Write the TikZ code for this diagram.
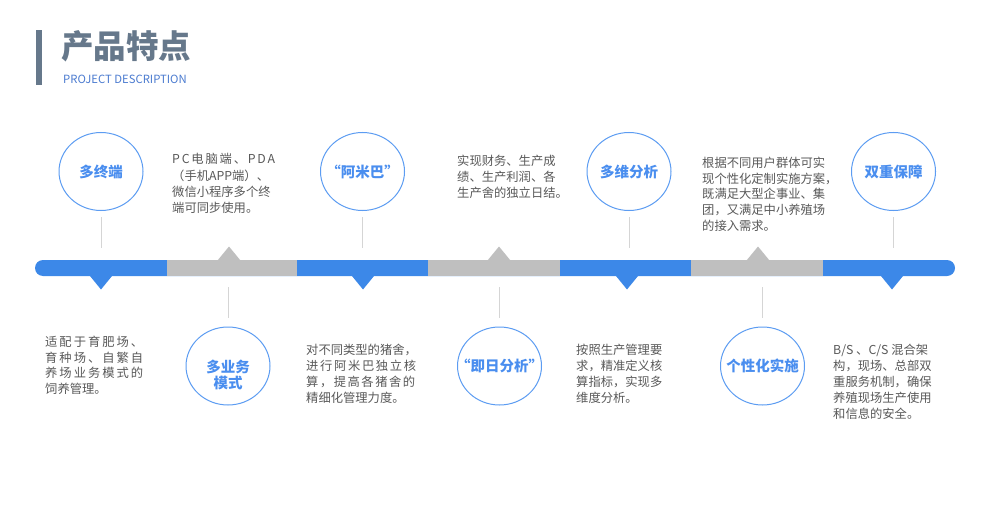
\documentclass[tikz,border=0pt]{standalone}
\usepackage{fontspec}
\setmainfont{Noto Sans CJK SC}
\usetikzlibrary{shapes.geometric}
\definecolor{titlegray}{HTML}{66788B}
\definecolor{subblue}{HTML}{4B7BD0}
\definecolor{barblue}{HTML}{3C88E8}
\definecolor{bargray}{HTML}{BFBFBF}
\definecolor{ringblue}{HTML}{5C9CF2}
\definecolor{labelblue}{HTML}{4A8EEF}
\definecolor{vlinegray}{HTML}{D5D5D5}
\definecolor{descgray}{HTML}{595959}
\def\sploop#1{\ifx#1\relax\else#1\hfil\expandafter\sploop\fi}
\newcommand\jline[2]{\hbox to #1{\sploop#2\relax\unskip}}
\newcommand\descline[4]{\node[desc] (#1) at (#2,#3) {#4};}
\tikzset{
  desc/.style={font=\fontsize{12.3}{16}\selectfont, text=descgray, inner sep=0pt, anchor=base west},
  ring/.style={ellipse, draw=ringblue, line width=1pt, minimum width=84pt, minimum height=78pt, inner sep=0pt},
  ringlabel/.style={font=\fontsize{14.5}{16}\selectfont\bfseries, text=labelblue, align=center, inner sep=0pt},
  vline/.style={draw=vlinegray, line width=0.9pt},
}
\begin{document}
\begin{tikzpicture}[x=1pt,y=-1pt]
\useasboundingbox[fill=white] (0,0) rectangle (990,508);
% title
\fill[titlegray] (36,30) rectangle (41.5,85);
\node[anchor=base west, inner sep=0pt, font=\fontsize{32.5}{32}\selectfont\bfseries, text=titlegray] (title) at (61,59) {产品特点};
\node[anchor=base west, inner sep=0pt, font=\fontsize{11.3}{12}\selectfont, text=subblue] (sub) at (63,83.3) {PROJECT DESCRIPTION};
% bar
\fill[barblue, rounded corners=8pt] (35,260) rectangle (955,276);
\fill[bargray] (167,260) rectangle (297,276);
\fill[bargray] (428,260) rectangle (560,276);
\fill[bargray] (691,260) rectangle (823,276);
\foreach \cx in {101,363,627,892}{
  \fill[barblue] (\cx-11.4,275.5) -- (\cx,289.5) -- (\cx+11.4,275.5) -- cycle;}
\foreach \cx in {229,499,758}{
  \fill[bargray] (\cx-11.5,260.5) -- (\cx,246.5) -- (\cx+11.5,260.5) -- cycle;}
% top circles
\node[ring] (c1) at (101,171.5) {};
\node[ringlabel] (l1) at (101,171.5) {多终端};
\node[ring] (c3) at (362.5,171.5) {};
\node[ringlabel] (l3) at (362.5,171.5) {“阿米巴”};
\node[ring] (c5) at (629,171.5) {};
\node[ringlabel] (l5) at (629,171.5) {多维分析};
\node[ring] (c7) at (893.5,171.5) {};
\node[ringlabel] (l7) at (893.5,171.5) {双重保障};
% bottom circles
\node[ring] (c2) at (228,366) {};
\node[ringlabel] (l2) at (228,375) {多业务\\模式};
\node[ring] (c4) at (499.5,366) {};
\node[ringlabel] (l4) at (499.5,366) {“即日分析”};
\node[ring] (c6) at (762.5,366) {};
\node[ringlabel] (l6) at (762.5,366) {个性化实施};
% connector lines
\foreach \c in {c1,c3,c5,c7}{ \draw[vline] ([yshift=-6pt]\c.south) -- ++(0,31); }
\foreach \c in {c2,c4,c6}{ \draw[vline] ([yshift=9pt]\c.north) -- ++(0,-31); }
% descriptions top
\descline{a1}{172}{164}{\jline{103pt}{PC电脑端、PDA}}
\descline{a2}{172}{180}{（手机APP端）、}
\descline{a3}{172}{196}{微信小程序多个终}
\descline{a4}{172}{212}{端可同步使用。}
\descline{b1}{457}{165}{实现财务、生产成}
\descline{b2}{457}{181}{绩、生产利润、各}
\descline{b3}{457}{197}{生产舍的独立日结。}
\descline{e1}{702}{167}{根据不同用户群体可实}
\descline{e2}{702}{183}{现个性化定制实施方案，}
\descline{e3}{702}{198.8}{既满足大型企事业、集}
\descline{e4}{702}{214.6}{团，又满足中小养殖场}
\descline{e5}{702}{230.4}{的接入需求。}
% descriptions bottom
\descline{f1}{45}{346.3}{\jline{98pt}{适配于育肥场、}}
\descline{f2}{45}{362.1}{\jline{98pt}{育种场、自繁自}}
\descline{f3}{45}{377.9}{\jline{98pt}{养场业务模式的}}
\descline{f4}{45}{393.7}{饲养管理。}
\descline{g1}{306}{354}{对不同类型的猪舍，}
\descline{g2}{306}{370}{\jline{110pt}{进行阿米巴独立核}}
\descline{g3}{306}{386}{\jline{109pt}{算，提高各猪舍的}}
\descline{g4}{306}{402}{精细化管理力度。}
\descline{h1}{576}{354}{按照生产管理要}
\descline{h2}{576}{370}{求，精准定义核}
\descline{h3}{576}{386}{算指标，实现多}
\descline{h4}{576}{402}{维度分析。}
\descline{k1}{833}{354}{B/S 、C/S 混合架}
\descline{k2}{833}{370}{构，现场、总部双}
\descline{k3}{833}{386}{重服务机制，确保}
\descline{k4}{833}{402}{养殖现场生产使用}
\descline{k5}{833}{418.5}{和信息的安全。}
\end{tikzpicture}
\end{document}
